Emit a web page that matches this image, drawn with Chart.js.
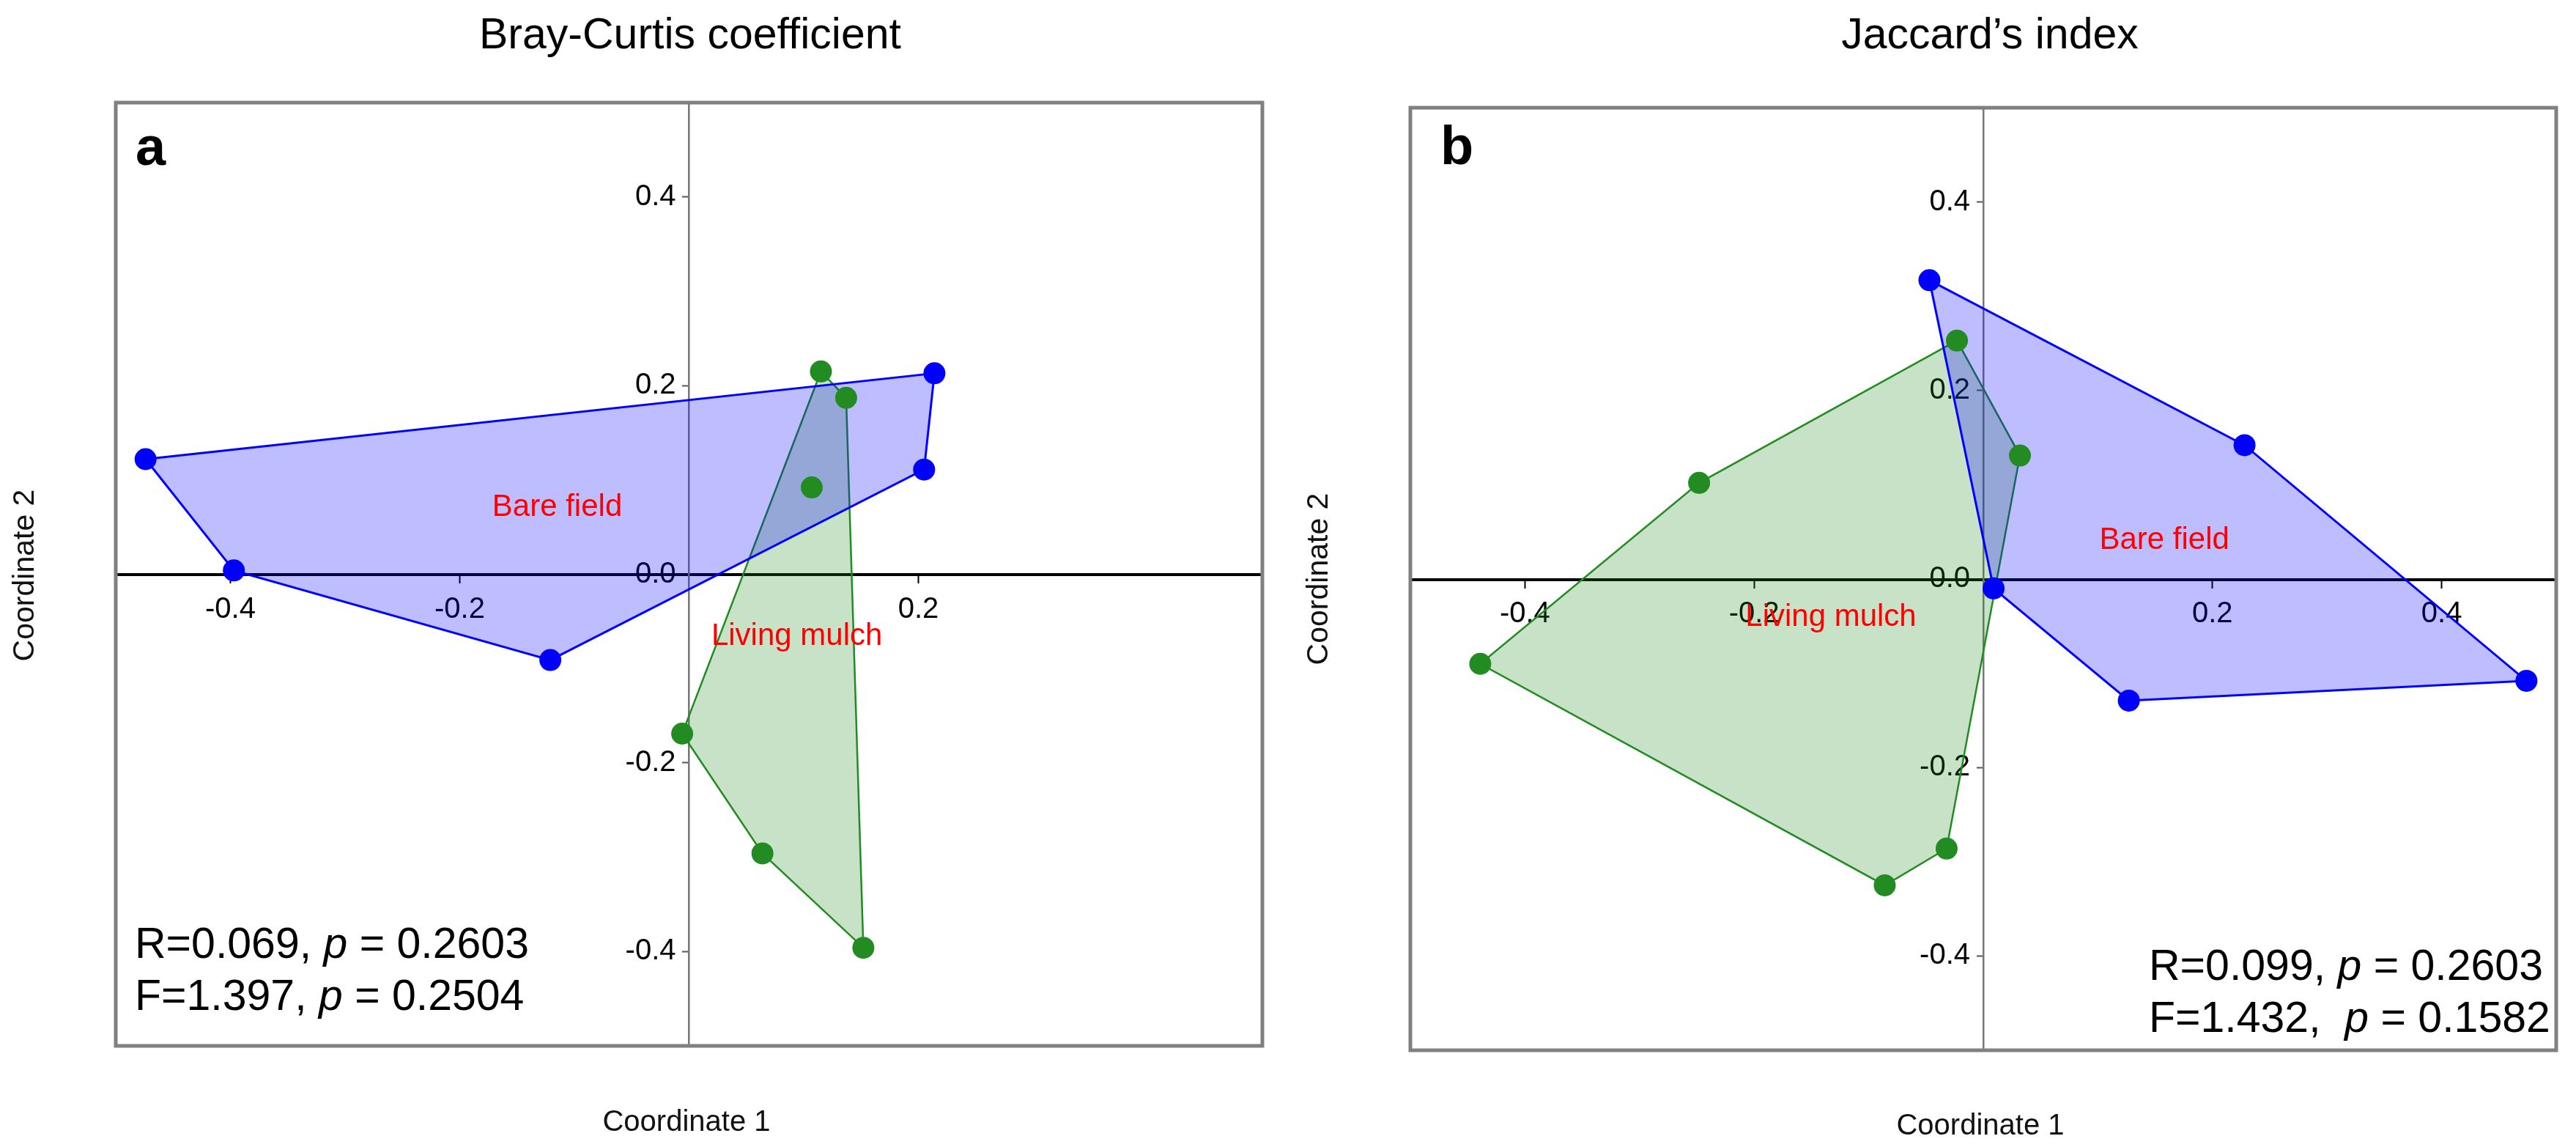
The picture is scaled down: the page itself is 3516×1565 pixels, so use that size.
<!DOCTYPE html>
<html>
<head>
<meta charset="utf-8">
<title>PCoA - Bray-Curtis / Jaccard</title>
<script src="https://cdn.jsdelivr.net/npm/chart.js@4.4.1/dist/chart.umd.min.js"></script>
<style>
  html, body { margin: 0; padding: 0; background: #fff; }
  #wrap { position: relative; width: 3516px; height: 1565px; overflow: hidden; }
  .panel { position: absolute; top: 0; width: 1758px; height: 1565px; }
</style>
</head>
<body>
<div id="wrap">
  <div class="panel" style="left:0"><canvas id="chartA" width="1758" height="1565"></canvas></div>
  <div class="panel" style="left:1758px"><canvas id="chartB" width="1758" height="1565"></canvas></div>
</div>
<script>
// ---- data ----
// panel a: Bray-Curtis coefficient
const bcBareX  = [-0.474, 0.214, 0.205, -0.121, -0.397];
const bcBareY  = [ 0.122, 0.213, 0.111, -0.091,  0.004];
const bcBareHull = [0, 1, 2, 3, 4];
const bcMulchX = [0.115, 0.137, 0.152, 0.064, -0.006, 0.107];
const bcMulchY = [0.215, 0.187, -0.396, -0.296, -0.169, 0.092];
const bcMulchHull = [0, 1, 2, 3, 4];

// panel b: Jaccard's index
const jcBareX  = [-0.047, 0.228, 0.474, 0.127, 0.009];
const jcBareY  = [ 0.317, 0.142, -0.108, -0.129, -0.010];
const jcBareHull = [0, 1, 2, 3, 4];
const jcMulchX = [-0.023, 0.032, -0.032, -0.086, -0.439, -0.248];
const jcMulchY = [ 0.253, 0.131, -0.286, -0.325, -0.090, 0.102];
const jcMulchHull = [0, 1, 2, 3, 4, 5];

// ticks
const xTicksA = [-0.4, -0.2, 0.2];
const xTicksB = [-0.4, -0.2, 0.2, 0.4];
const yTicks  = [-0.4, -0.2, 0.0, 0.2, 0.4];

// group label anchors (data coords)
const groupNames = ['Bare field', 'Living mulch'];
const bcLabelX = [-0.115, 0.094];
const bcLabelY = [0.071, -0.066];
const jcLabelX = [0.158, -0.133];
const jcLabelY = [0.041, -0.041];

// texts
const titles = ['Bray-Curtis coefficient', 'Jaccard\u2019s index'];
const letters = ['a', 'b'];
const bcStats = ['R=0.069, *p* = 0.2603', 'F=1.397, *p* = 0.2504'];
const jcStats = ['R=0.099, *p* = 0.2603', 'F=1.432,  *p* = 0.1582'];
const xTitle = 'Coordinate 1';
const yTitle = 'Coordinate 2';

// ---- styling ----
const FONT = '"Liberation Sans", Arial, Helvetica, sans-serif';
const BLUE = '#0000ff';
const BLUE_FILL = 'rgba(0, 0, 255, 0.26)';
const GREEN = '#228b22';
const GREEN_FILL = 'rgba(34, 139, 34, 0.25)';

function points(xs, ys) {
  return xs.map((x, i) => ({ x: x, y: ys[i] }));
}

function polygon(xs, ys, order) {
  const p = order.map(i => ({ x: xs[i], y: ys[i] }));
  p.push(p[0]);
  return p;
}

function drawRich(ctx, line, x, y, size) {
  let cx = x;
  line.split('*').forEach((part, i) => {
    ctx.font = (i % 2 ? 'italic ' : '') + size + 'px ' + FONT;
    ctx.fillText(part, cx, y);
    cx += ctx.measureText(part).width;
  });
}

// page layout of each panel (canvas-relative pixels)
const panels = [
  {
    id: 'chartA', padding: { left: 158, top: 140, right: 35, bottom: 138 },
    xTicks: xTicksA, title: titles[0], titleX: 942, letter: letters[0], letterX: 185, letterY: 225,
    stats: bcStats, statsX: 184, statsY: 1307, xTitleX: 937, xTitleY: 1543, yTitleX: 35, yTitleY: 785,
    bare: [bcBareX, bcBareY, bcBareHull], mulch: [bcMulchX, bcMulchY, bcMulchHull],
    labelX: bcLabelX, labelY: bcLabelY
  },
  {
    id: 'chartB', padding: { left: 167, top: 147, right: 27, bottom: 132 },
    xTicks: xTicksB, title: titles[1], titleX: 2716 - 1758, letter: letters[1], letterX: 1966 - 1758, letterY: 224,
    stats: jcStats, statsX: 2933 - 1758, statsY: 1337, xTitleX: 2703 - 1758, xTitleY: 1548, yTitleX: 1801 - 1758, yTitleY: 790,
    bare: [jcBareX, jcBareY, jcBareHull], mulch: [jcMulchX, jcMulchY, jcMulchHull],
    labelX: jcLabelX, labelY: jcLabelY
  }
];

const decor = {
  id: 'decor',
  afterDraw(chart) {
    const p = chart.options.plugins.decor;
    const ctx = chart.ctx;
    const area = chart.chartArea;
    const xs = chart.scales.x, ys = chart.scales.y;
    ctx.save();

    // frame
    ctx.strokeStyle = '#808080';
    ctx.lineWidth = 5;
    ctx.strokeRect(area.left, area.top, area.right - area.left, area.bottom - area.top);

    ctx.fillStyle = '#000';
    ctx.textBaseline = 'alphabetic';

    // title
    ctx.textAlign = 'center';
    ctx.font = '59px ' + FONT;
    ctx.fillText(p.title, p.titleX, 66);

    // panel letter
    ctx.textAlign = 'left';
    ctx.font = 'bold 74px ' + FONT;
    ctx.fillText(p.letter, p.letterX, p.letterY);

    // group labels
    ctx.fillStyle = '#ff0000';
    ctx.textAlign = 'center';
    ctx.textBaseline = 'middle';
    ctx.font = '42px ' + FONT;
    groupNames.forEach((name, i) => {
      ctx.fillText(name, xs.getPixelForValue(p.labelX[i]), ys.getPixelForValue(p.labelY[i]));
    });

    // statistics
    ctx.fillStyle = '#000';
    ctx.textAlign = 'left';
    ctx.textBaseline = 'alphabetic';
    p.stats.forEach((line, i) => drawRich(ctx, line, p.statsX, p.statsY + i * 71, 59));

    // axis titles
    ctx.fillStyle = '#111';
    ctx.textAlign = 'center';
    ctx.font = '40px ' + FONT;
    ctx.fillText(xTitle, p.xTitleX, p.xTitleY);
    ctx.translate(p.yTitleX, p.yTitleY);
    ctx.rotate(-Math.PI / 2);
    ctx.textBaseline = 'middle';
    ctx.font = '41px ' + FONT;
    ctx.fillText(yTitle, 0, 0);

    ctx.restore();
  }
};

panels.forEach(p => {
  const [bx, by, bh] = p.bare;
  const [mx, my, mh] = p.mulch;
  new Chart(document.getElementById(p.id), {
    type: 'scatter',
    data: {
      datasets: [
        {
          label: 'Living mulch hull', data: polygon(mx, my, mh), showLine: true, fill: 'shape',
          backgroundColor: GREEN_FILL, borderColor: GREEN, borderWidth: 2.5, pointRadius: 0, order: 4
        },
        {
          label: 'Bare field hull', data: polygon(bx, by, bh), showLine: true, fill: 'shape',
          backgroundColor: BLUE_FILL, borderColor: BLUE, borderWidth: 3, pointRadius: 0, order: 3
        },
        {
          label: 'Living mulch', data: points(mx, my), showLine: false,
          pointRadius: 15, pointBackgroundColor: GREEN, pointBorderWidth: 0, order: 2
        },
        {
          label: 'Bare field', data: points(bx, by), showLine: false,
          pointRadius: 15, pointBackgroundColor: BLUE, pointBorderWidth: 0, order: 1
        }
      ]
    },
    options: {
      responsive: false,
      animation: false,
      layout: { padding: p.padding },
      scales: {
        x: {
          type: 'linear', position: 'center', min: -0.5, max: 0.5,
          afterBuildTicks: s => { s.ticks = p.xTicks.map(v => ({ value: v })); },
          ticks: { callback: v => v.toFixed(1), color: '#000', padding: 14, font: { family: FONT, size: 40 } },
          grid: { drawOnChartArea: false, drawTicks: true, tickLength: 10, tickColor: '#000', tickWidth: 2 },
          border: { display: true, color: '#000', width: 4 }
        },
        y: {
          type: 'linear', position: 'center', min: -0.5, max: 0.5,
          afterBuildTicks: s => { s.ticks = yTicks.map(v => ({ value: v })); },
          ticks: { callback: v => v.toFixed(1), color: '#000', padding: 10, font: { family: FONT, size: 40 } },
          grid: { drawOnChartArea: false, drawTicks: true, tickLength: 8, tickColor: '#555', tickWidth: 2 },
          border: { display: true, color: '#777', width: 2.5 }
        }
      },
      plugins: {
        legend: { display: false },
        tooltip: { enabled: false },
        decor: p
      }
    },
    plugins: [decor]
  });
});
</script>
</body>
</html>
